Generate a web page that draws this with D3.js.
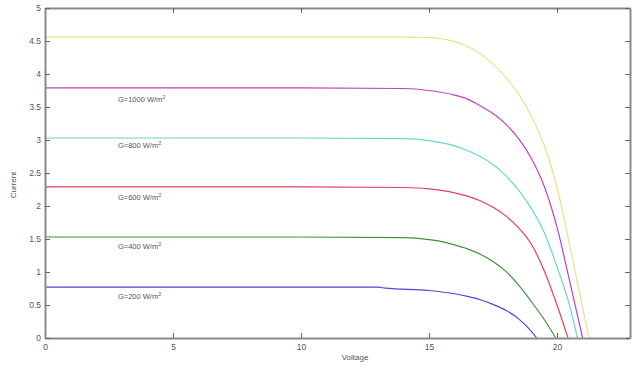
<!DOCTYPE html>
<html>
<head>
<meta charset="utf-8">
<script src="https://cdn.jsdelivr.net/npm/d3@7"></script>
<style>
  body { margin: 0; background: #fff; }
  svg { display: block; font-family: "Liberation Sans", Arial, sans-serif; }
</style>
</head>
<body>
<div id="chart"></div>
<script>
// I-V curves at different irradiance levels
const v1000 = [0, 10, 14, 15, 16, 16.5, 17, 17.5, 18, 18.5, 19, 19.5, 20, 20.5, 21, 21.25];
const i1000 = [4.56, 4.56, 4.56, 4.55, 4.49, 4.42, 4.31, 4.15, 3.95, 3.7, 3.36, 2.92, 2.28, 1.4, 0.46, 0];

const v800 = [0, 10, 14, 15, 16, 16.5, 17, 17.5, 18, 18.5, 19, 19.5, 20, 20.5, 21];
const i800 = [3.79, 3.79, 3.78, 3.75, 3.68, 3.62, 3.52, 3.4, 3.24, 3.02, 2.72, 2.3, 1.68, 0.85, 0];

const v600 = [0, 10, 14, 15, 16, 16.5, 17, 17.5, 18, 18.5, 19, 19.5, 20, 20.5, 20.8];
const i600 = [3.03, 3.03, 3.02, 2.99, 2.91, 2.84, 2.75, 2.63, 2.46, 2.24, 1.96, 1.6, 1.08, 0.48, 0];

const v400 = [0, 10, 14, 15, 16, 16.5, 17, 17.5, 18, 18.5, 19, 19.5, 20, 20.43];
const i400 = [2.29, 2.29, 2.28, 2.26, 2.2, 2.15, 2.08, 1.98, 1.85, 1.67, 1.42, 1.02, 0.5, 0];

const v200 = [0, 10, 14, 15, 15.5, 16, 16.5, 17, 17.5, 18, 18.5, 19, 19.5, 19.95];
const i200 = [1.53, 1.53, 1.52, 1.49, 1.46, 1.41, 1.35, 1.27, 1.16, 1.01, 0.8, 0.55, 0.28, 0];

const v100 = [0, 10, 13, 13.3, 15, 16, 16.5, 17, 17.5, 18, 18.5, 19, 19.2];
const i100 = [0.77, 0.77, 0.77, 0.755, 0.72, 0.67, 0.63, 0.58, 0.51, 0.42, 0.29, 0.1, 0];

const seriesColors = ["#e4e48c", "#c040c8", "#6cd4d4", "#e4405a", "#3c963c", "#4a4ad8"];
const labelText = ["G=1000 W/m", "G=800 W/m", "G=600 W/m", "G=400 W/m", "G=200 W/m"];
const labelY = [3.62, 2.92, 2.14, 1.39, 0.64];
const xTicks = [0, 5, 10, 15, 20];
const yTicks = [0, 0.5, 1, 1.5, 2, 2.5, 3, 3.5, 4, 4.5, 5];

const W = 632, H = 368;
const margin = { top: 8, right: 2, bottom: 30, left: 45 };
const width = W - margin.left - margin.right;
const height = H - margin.top - margin.bottom;

const svg = d3.select("#chart").append("svg")
  .attr("width", W).attr("height", H);
const g = svg.append("g")
  .attr("transform", `translate(${margin.left},${margin.top})`);

const x = d3.scaleLinear().domain([0, 22.85]).range([0, width]);
const y = d3.scaleLinear().domain([0, 5]).range([height, 0]);

const series = [
  [v1000, i1000], [v800, i800], [v600, i600],
  [v400, i400], [v200, i200], [v100, i100]
];

const line = d3.line()
  .x(d => x(d[0]))
  .y(d => y(d[1]))
  .curve(d3.curveMonotoneX);

series.forEach((s, k) => {
  const pts = s[0].map((v, j) => [v, s[1][j]]);
  g.append("path")
    .datum(pts)
    .attr("fill", "none")
    .attr("stroke", seriesColors[k])
    .attr("stroke-width", 1.2)
    .attr("d", line);
});

// irradiance labels with superscript 2
labelText.forEach((t, k) => {
  const txt = g.append("text")
    .attr("x", x(2.85))
    .attr("y", y(labelY[k]) + 3)
    .attr("font-size", 7.5)
    .attr("fill", "#555")
    .text(t);
  txt.append("tspan")
    .attr("dy", -3)
    .attr("font-size", 5.5)
    .text("2");
});

// axes, MATLAB style: inward ticks on all sides
const tickLen = 5;
const axisColor = "#8a8a8a";
const fmt = d => String(d);
const axB = g.append("g").attr("transform", `translate(0,${height})`)
  .call(d3.axisBottom(x).tickValues(xTicks).tickSizeInner(-tickLen).tickSizeOuter(0).tickPadding(6).tickFormat(fmt));
const axT = g.append("g")
  .call(d3.axisTop(x).tickValues(xTicks).tickSizeInner(-tickLen).tickSizeOuter(0).tickFormat(""));
const axL = g.append("g")
  .call(d3.axisLeft(y).tickValues(yTicks).tickSizeInner(-tickLen).tickSizeOuter(0).tickPadding(4).tickFormat(fmt));
const axR = g.append("g").attr("transform", `translate(${width},0)`)
  .call(d3.axisRight(y).tickValues(yTicks).tickSizeInner(-tickLen).tickSizeOuter(0).tickFormat(""));

[axB, axT, axL, axR].forEach(a => {
  a.select(".domain").attr("stroke", axisColor).attr("stroke-width", 2);
  a.selectAll(".tick line").attr("stroke", "#666").attr("stroke-width", 1);
  a.selectAll("text").attr("fill", "#555").attr("font-size", 8.5);
});

// axis titles
svg.append("text")
  .attr("x", 355).attr("y", 360)
  .attr("text-anchor", "middle")
  .attr("font-size", 8)
  .attr("fill", "#555")
  .text("Voltage");

svg.append("text")
  .attr("transform", `translate(16,${margin.top + height / 2 + 12}) rotate(-90)`)
  .attr("text-anchor", "middle")
  .attr("font-size", 8)
  .attr("fill", "#555")
  .text("Current");
</script>
</body>
</html>
